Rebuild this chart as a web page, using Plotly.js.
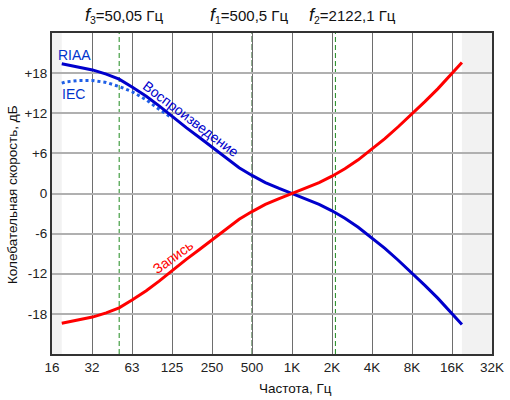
<!DOCTYPE html>
<html>
<head>
<meta charset="utf-8">
<script src="https://cdn.plot.ly/plotly-3.0.1.min.js"></script>
<style>html,body{margin:0;padding:0;background:#fff;}#chart{width:510px;height:400px;}</style>
</head>
<body>
<div id="chart"></div>
<script>
// Frequencies (Hz) and levels (dB)
const freqs = [18.5, 20, 25, 31.5, 40, 50, 63, 80, 100, 125, 160, 200, 250, 315, 400, 500, 630, 800, 1000, 1250, 1600, 2000, 2500, 3150, 4000, 5000, 6300, 8000, 10000, 12500, 16000, 19000];
const playbackRIAA = [19.4, 19.27, 18.95, 18.48, 17.85, 17.1, 15.9, 14.55, 13.1, 11.5, 9.85, 8.4, 6.95, 5.35, 3.85, 2.7, 1.64, 0.75, 0, -0.74, -1.64, -2.59, -3.7, -5.04, -6.61, -8.21, -9.98, -11.9, -13.73, -15.65, -17.9, -19.6];
const recordRIAA = [-19.4, -19.27, -18.95, -18.48, -17.85, -17.1, -15.9, -14.55, -13.1, -11.5, -9.85, -8.4, -6.95, -5.35, -3.85, -2.7, -1.64, -0.75, 0, 0.74, 1.64, 2.59, 3.7, 5.04, 6.61, 8.21, 9.98, 11.9, 13.73, 15.65, 17.9, 19.6];
const freqsIEC = [18.5, 20, 25, 31.5, 40, 50, 63, 80, 100, 125];
const playbackIEC = [16.5, 16.7, 16.9, 16.9, 16.6, 16.0, 15.2, 14.0, 12.6, 11.3];

const tickFreqs = [15.625, 31.25, 62.5, 125, 250, 500, 1000, 2000, 4000, 8000, 16000, 32000];
const tickLabels = ['16', '32', '63', '125', '250', '500', '1K', '2K', '4K', '8K', '16K', '32K'];
const dbTicks = [-18, -12, -6, 0, 6, 12, 18];
const dbLabels = ['-18', '-12', '-6', '0', '+6', '+12', '+18'];

const markerFreqs = [50.05, 500.5, 2122.1];
const markerNames = ['3', '1', '2'];
const markerValues = ['50,05', '500,5', '2122,1'];

const FONT = 'Liberation Sans, Arial, sans-serif';

const traces = [
  {x: freqsIEC, y: playbackIEC, mode: 'lines', line: {color: '#1f5fe6', width: 3, dash: 'dot'}, hoverinfo: 'skip'},
  {x: freqs, y: playbackRIAA, mode: 'lines', line: {color: '#0000cc', width: 3}, hoverinfo: 'skip'},
  {x: freqs, y: recordRIAA, mode: 'lines', line: {color: '#ff0000', width: 3}, hoverinfo: 'skip'}
];

const shapes = [
  {type: 'rect', xref: 'x', yref: 'paper', x0: 15.625, x1: 18.5, y0: 0, y1: 1, fillcolor: '#f2f2f2', line: {width: 0}, layer: 'below'},
  {type: 'rect', xref: 'x', yref: 'paper', x0: 19000, x1: 32000, y0: 0, y1: 1, fillcolor: '#f2f2f2', line: {width: 0}, layer: 'below'}
];
const markerColors = ['#1f8a1f', '#0a4f0a', '#1f8a1f'];
markerFreqs.forEach((f, i) => {
  shapes.push({type: 'line', xref: 'x', yref: 'paper', x0: f, x1: f, y0: 0, y1: 1,
    line: {color: markerColors[i], width: 1, dash: i === 1 ? '6px,2px' : '5px,3px'}, layer: 'between'});
});

const labelX = [0.1636, 0.4466, 0.684];
const annotations = markerFreqs.map((f, i) => ({
  xref: 'paper', yref: 'paper', x: labelX[i], y: 1.056, xanchor: 'center', yanchor: 'middle', showarrow: false,
  text: '<span style="font-size:18px"><i>f</i></span><sub>' + markerNames[i] + '</sub>=' + markerValues[i] + ' Гц',
  font: {family: FONT, size: 15, color: '#111'}
}));
annotations.push(
  {xref: 'paper', yref: 'paper', x: (74.5 - 52) / 440, y: (354 - 55) / 321, text: 'RIAA', showarrow: false, xanchor: 'center', yanchor: 'middle', font: {family: FONT, size: 14, color: '#0033cc'}},
  {xref: 'paper', yref: 'paper', x: (73 - 52) / 440, y: (354 - 94) / 321, text: 'IEC', showarrow: false, xanchor: 'center', yanchor: 'middle', font: {family: FONT, size: 14, color: '#0033cc'}},
  {xref: 'paper', yref: 'paper', x: (191 - 52) / 440, y: (354 - 119) / 321, text: 'Воспроизведение', textangle: 37, showarrow: false, xanchor: 'center', yanchor: 'middle', font: {family: FONT, size: 14, color: '#0000cc'}},
  {xref: 'paper', yref: 'paper', x: (173 - 52) / 440, y: (354 - 257) / 321, text: 'Запись', textangle: -36, showarrow: false, xanchor: 'center', yanchor: 'middle', font: {family: FONT, size: 14, color: '#ff0000'}},
  {xref: 'paper', yref: 'paper', x: (295 - 52) / 440, y: (354 - 389) / 321, text: 'Частота, Гц', showarrow: false, xanchor: 'center', yanchor: 'middle', font: {family: FONT, size: 13.5, color: '#111'}},
  {xref: 'paper', yref: 'paper', x: (12 - 52) / 440, y: (354 - 195) / 321, text: 'Колебательная скорость, дБ', textangle: -90, showarrow: false, xanchor: 'center', yanchor: 'middle', font: {family: FONT, size: 13.5, color: '#111'}}
);

const layout = {
  width: 510, height: 400,
  margin: {l: 52, r: 18, t: 33, b: 46, pad: 0},
  paper_bgcolor: '#ffffff', plot_bgcolor: '#ffffff',
  showlegend: false,
  font: {family: FONT, size: 13, color: '#222'},
  xaxis: {
    type: 'log', range: [Math.log10(15.625), Math.log10(32000)],
    tickmode: 'array', tickvals: tickFreqs, ticktext: tickLabels,
    showgrid: true, gridcolor: '#6e6e6e', gridwidth: 1,
    showline: true, linecolor: '#333', linewidth: 2, mirror: true,
    ticks: '', ticklen: 0, zeroline: false,
    tickfont: {family: FONT, size: 13.5, color: '#222'}
  },
  yaxis: {
    range: [-24, 24],
    tickmode: 'array', tickvals: dbTicks, ticktext: dbLabels,
    showgrid: true, gridcolor: '#b0b0b0', gridwidth: 2,
    showline: true, linecolor: '#333', linewidth: 2, mirror: true,
    ticks: '', zeroline: false,
    tickfont: {family: FONT, size: 13.5, color: '#222'}
  },
  shapes: shapes,
  annotations: annotations
};

Plotly.newPlot('chart', traces, layout, {staticPlot: true, displayModeBar: false});
</script>
</body>
</html>
